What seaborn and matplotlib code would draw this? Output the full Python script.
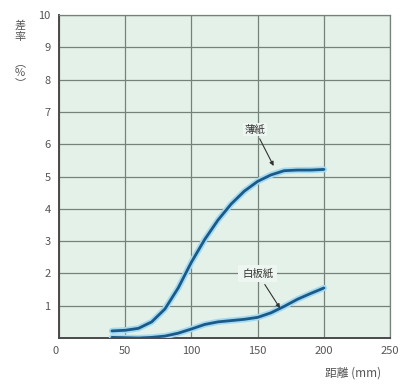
import pandas as pd
import matplotlib
matplotlib.use("Agg")
import matplotlib.pyplot as plt
import seaborn as sns

# values
dist_thin = [40, 50, 60, 70, 80, 90, 100, 110, 120, 130, 140, 150, 160, 170, 180, 190, 200]
rate_thin = [0.22, 0.24, 0.3, 0.5, 0.9, 1.55, 2.35, 3.05, 3.65, 4.15, 4.55, 4.85, 5.05, 5.18, 5.2, 5.2, 5.22]
dist_board = [40, 50, 60, 70, 80, 90, 100, 110, 120, 130, 140, 150, 160, 170, 180, 190, 200]
rate_board = [0.02, 0.01, 0.0, 0.02, 0.06, 0.15, 0.28, 0.42, 0.5, 0.54, 0.58, 0.64, 0.78, 0.98, 1.2, 1.38, 1.55]
x_ticks = [0, 50, 100, 150, 200, 250]
y_ticks = [1, 2, 3, 4, 5, 6, 7, 8, 9, 10]

df = pd.concat([
    pd.DataFrame({"dist": dist_thin, "rate": rate_thin, "paper": "薄紙"}),
    pd.DataFrame({"dist": dist_board, "rate": rate_board, "paper": "白板紙"}),
])

sns.set_style("white")
plt.rcParams['font.family'] = ['Noto Sans CJK JP', 'DejaVu Sans']

fig = plt.figure(figsize=(4.01, 3.85), dpi=100)
ax = fig.add_axes([0.147, 0.122, 0.826, 0.839])
ax.set_facecolor("#e3f1e8")

# light glow under the dark line
for name in ["薄紙", "白板紙"]:
    sub = df[df.paper == name]
    sns.lineplot(data=sub, x="dist", y="rate", ax=ax, color="#a3daf2", lw=4.5,
                 sort=False, solid_capstyle="round", zorder=3)
    sns.lineplot(data=sub, x="dist", y="rate", ax=ax, color="#1b5a88", lw=2,
                 sort=False, solid_capstyle="round", zorder=4)

ax.set_xlim(0, 250)
ax.set_ylim(0, 10)
ax.set_xticks(x_ticks)
ax.set_yticks(y_ticks)
ax.grid(True, color="#74827a", lw=0.9)
ax.set_axisbelow(True)
for s in ax.spines.values():
    s.set_color("#74827a")
    s.set_linewidth(0.9)
ax.spines["left"].set_color("#4a4a4a")
ax.spines["bottom"].set_color("#4a4a4a")
ax.spines["left"].set_linewidth(1.4)
ax.spines["bottom"].set_linewidth(1.4)
ax.tick_params(labelsize=8, colors="#555555", length=0, pad=6)
ax.set_xlabel("")
ax.set_ylabel("")
# corner "0" sits left of the axis in the reference
ax.get_xticklabels()[0].set_horizontalalignment("right")

ax.annotate("薄紙", xy=(163, 5.25), xytext=(148, 6.45), fontsize=7.5, color="#333333",
            ha="center", va="center",
            bbox=dict(boxstyle="square,pad=0.15", fc="#eef6f1", ec="none"),
            arrowprops=dict(arrowstyle="-|>", color="#333333", lw=0.8, mutation_scale=6),
            zorder=6)
ax.annotate("白板紙", xy=(168, 0.85), xytext=(150, 2.0), fontsize=7.5, color="#333333",
            ha="center", va="center",
            bbox=dict(boxstyle="square,pad=0.35", fc="#eef6f1", ec="none"),
            arrowprops=dict(arrowstyle="-|>", color="#333333", lw=0.8, mutation_scale=6),
            zorder=6)

# vertical y label
fig.text(0.05, 0.92, "差\n率", fontsize=8, color="#555555", ha="center", va="center",
         linespacing=1.1)
fig.text(0.05, 0.81, "︵\n%\n︶", fontsize=8, color="#555555", ha="center", va="center",
         linespacing=1.0)
fig.text(0.88, 0.03, "距離 (mm)", fontsize=8.5, color="#555555", ha="center", va="center")

fig.savefig("out.png", dpi=100)
